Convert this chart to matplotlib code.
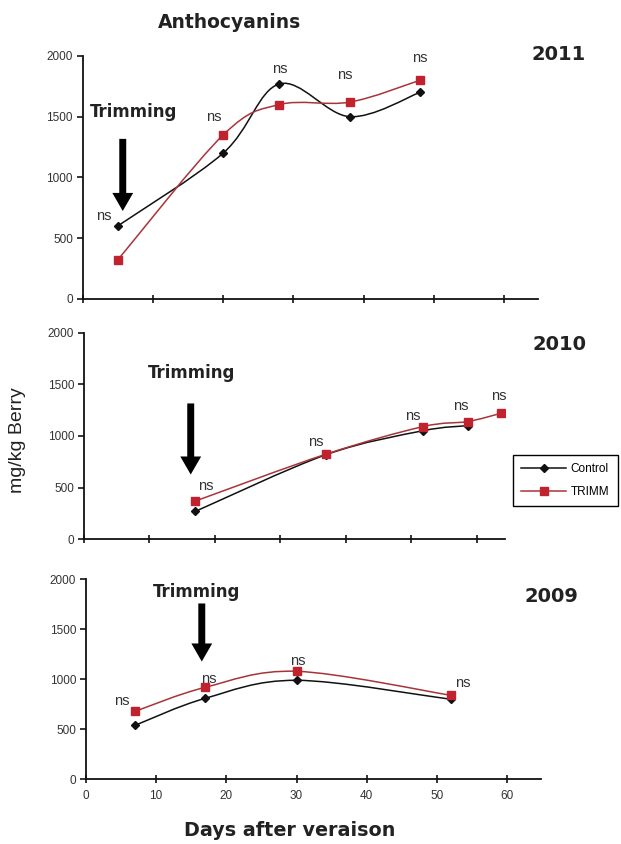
import numpy as np
import matplotlib
matplotlib.use("Agg")
import matplotlib.pyplot as plt
from matplotlib.path import Path
from matplotlib.patches import PathPatch
from matplotlib.lines import Line2D

# ---- data: anthocyanins (mg/kg berry) vs days after veraison ----
days_2011 = [5, 20, 28, 38, 48]
control_2011 = [600, 1200, 1770, 1500, 1700]
trimm_2011 = [320, 1350, 1600, 1620, 1800]

days_2010_control = [17, 37, 51.7, 58.6]
control_2010 = [270, 820, 1050, 1100]
days_2010_trimm = [17, 37, 51.7, 58.6, 63.7]
trimm_2010 = [370, 825, 1090, 1140, 1220]

days_2009 = [7, 17, 30, 52]
control_2009 = [540, 810, 990, 800]
trimm_2009 = [680, 920, 1080, 840]

years = ["2011", "2010", "2009"]
y_ticks = [0, 500, 1000, 1500, 2000]
x_ticks = [0, 10, 20, 30, 40, 50, 60]

BLACK = "#111111"
RED_MK = "#c0222e"
RED_LN = "#a8343a"
BOLD_FONT = "DejaVu Sans"

W, H = 621, 844
fig = plt.figure(figsize=(W / 100, H / 100), dpi=100)


def px_axes(left, right, top, bottom):
    return fig.add_axes([left / W, 1 - bottom / H, (right - left) / W, (bottom - top) / H])


def smooth_path(ax, xs, ys, color, lw):
    """Excel-style smoothed line through the points using cubic Bezier segments."""
    disp = ax.transData.transform(np.column_stack([xs, ys]))
    n = len(disp)
    verts = [disp[0]]
    codes = [Path.MOVETO]
    for i in range(n - 1):
        p0 = disp[i - 1] if i > 0 else disp[i]
        p1 = disp[i]
        p2 = disp[i + 1]
        p3 = disp[i + 2] if i + 2 < n else disp[i + 1]
        c1 = p1 + (p2 - p0) / 6.0
        c2 = p2 - (p3 - p1) / 6.0
        verts += [c1, c2, p2]
        codes += [Path.CURVE4] * 3
    patch = PathPatch(Path(verts, codes), facecolor="none", edgecolor=color,
                      lw=lw, transform=None, zorder=2)
    ax.add_artist(patch)


def style_axes(ax, xmax, show_xlabels):
    ax.set_xlim(0, xmax)
    ax.set_ylim(0, 2000)
    for s in ("top", "right"):
        ax.spines[s].set_visible(False)
    for s in ("left", "bottom"):
        ax.spines[s].set_linewidth(1.3)
        ax.spines[s].set_color("#111111")
    ax.set_yticks(y_ticks)
    ax.set_xticks(x_ticks)
    ax.tick_params(axis="y", direction="out", length=4, width=1.1, pad=3,
                   labelsize=8.5, labelcolor="#333333")
    ax.tick_params(axis="x", direction="inout", length=6, width=1.1, pad=5,
                   labelsize=8.5, labelcolor="#333333", labelbottom=show_xlabels)
    for lab in ax.get_yticklabels() + ax.get_xticklabels():
        lab.set_family("Liberation Sans")
    ax.patch.set_alpha(0)


def draw_series(ax, xc, yc, xt, yt):
    smooth_path(ax, xc, yc, BLACK, 1.1)
    smooth_path(ax, xt, yt, RED_LN, 1.1)
    ax.plot(xc, yc, ls="none", marker="D", ms=4.5, color=BLACK, zorder=3)
    ax.plot(xt, yt, ls="none", marker="s", ms=5.5, color=RED_MK, zorder=4)


def ns_labels(ax, xs, ymax, offsets):
    for x, y, (dx, dy) in zip(xs, ymax, offsets):
        ax.annotate("ns", xy=(x, y), xytext=(dx * 0.72, dy * 0.72),
                    textcoords="offset points", ha="center", va="center",
                    fontsize=10.5, color="#333333", family="Liberation Sans")


def trimming(ax, text_xy, x_arrow, y_top, y_tip):
    ax.text(*text_xy, "Trimming", ha="center", va="center", fontsize=12,
            fontweight="bold", color="#222222", family=BOLD_FONT)
    ax.annotate("", xy=(x_arrow, y_tip), xytext=(x_arrow, y_top),
                arrowprops=dict(arrowstyle="simple,head_width=1.5,head_length=1.3,tail_width=0.5",
                                mutation_scale=10, fc="black", ec="black", lw=0))


# ---- 2011 ----
ax1 = px_axes(82.7, 538, 56, 298.7)
style_axes(ax1, 64.8, False)
draw_series(ax1, days_2011, control_2011, days_2011, trimm_2011)
ns_labels(ax1, days_2011, np.maximum(control_2011, trimm_2011),
          [(-14, 10), (-9, 18), (0, 15), (-5, 27), (0, 22)])
trimming(ax1, (7.2, 1540), 5.7, 1340, 700)

# ---- 2010 ----
ax2 = px_axes(84, 505, 332.7, 539.3)
style_axes(ax2, 64.3, False)
draw_series(ax2, days_2010_control, control_2010, days_2010_trimm, trimm_2010)
ns_labels(ax2, days_2010_trimm,
          np.maximum(control_2010 + [0], trimm_2010),
          [(10, 15), (-10, 12), (-10, 11), (-7, 16), (-2, 17)])
trimming(ax2, (16.4, 1613), 16.3, 1342, 600)

# ---- 2009 ----
ax3 = px_axes(86, 540.7, 579.3, 779.3)
style_axes(ax3, 64.8, True)
draw_series(ax3, days_2009, control_2009, days_2009, trimm_2009)
ns_labels(ax3, days_2009, np.maximum(control_2009, trimm_2009),
          [(-13, 10), (4, 8), (1, 10), (12, 12)])
trimming(ax3, (15.7, 1876), 16.5, 1786, 1150)

# ---- shared labels, title and year labels ----
fig.text(18 / W, 1 - 440 / H, "mg/kg Berry", rotation=90, ha="center",
         va="center", fontsize=14, family="Liberation Sans", color="#222222")
fig.text(290 / W, 1 - 830 / H, "Days after veraison", ha="center", va="center",
         fontsize=13.8, fontweight="bold", family=BOLD_FONT, color="#222222")
fig.text(230 / W, 1 - 22 / H, "Anthocyanins", ha="center", va="center",
         fontsize=13.5, fontweight="bold", family=BOLD_FONT, color="#222222")
for ytxt, xc, yc in zip(years, [559, 559, 551], [55, 345, 596]):
    fig.text(xc / W, 1 - yc / H, ytxt, ha="center", va="center",
             fontsize=14, fontweight="bold", family=BOLD_FONT, color="#222222")

# ---- legend ----
handles = [Line2D([], [], color=BLACK, lw=1.1, marker="D", ms=4.5),
           Line2D([], [], color=RED_LN, lw=1.1, marker="s", ms=5.5,
                  markerfacecolor=RED_MK, markeredgecolor=RED_MK)]
leg = fig.legend(handles, ["Control", "TRIMM"], loc="upper left",
                 bbox_to_anchor=(513 / W, 1 - 455 / H), fancybox=False,
                 framealpha=1, edgecolor="black",
                 prop={"family": "Liberation Sans", "size": 8.5},
                 handlelength=3.8, handletextpad=0.4, borderpad=0.7,
                 labelspacing=0.9, borderaxespad=0)
leg.get_frame().set_linewidth(1.0)

fig.savefig("out.png", dpi=100, facecolor="white")
